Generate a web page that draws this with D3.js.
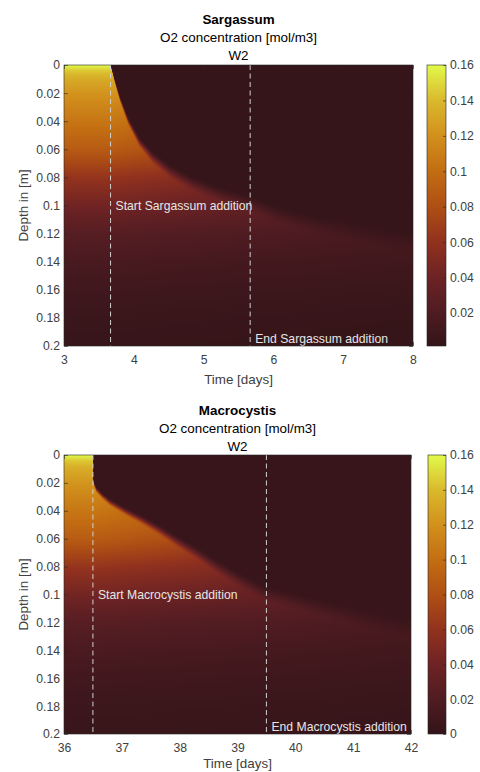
<!DOCTYPE html>
<html><head><meta charset="utf-8">
<script src="https://cdn.jsdelivr.net/npm/d3@7"></script>
<style>html,body{margin:0;padding:0;background:#fff;} svg{display:block;font-family:"Liberation Sans",Arial,sans-serif;}</style>
</head><body>
<script>
// ---------- shared tick data ----------
const depthTicks = [0, 0.02, 0.04, 0.06, 0.08, 0.1, 0.12, 0.14, 0.16, 0.18, 0.2];
const depthTickLabels = ["0", "0.02", "0.04", "0.06", "0.08", "0.1", "0.12", "0.14", "0.16", "0.18", "0.2"];
const colormapColors = ["#331418", "#501c22", "#6e2324", "#92321e", "#af5014", "#c36e12", "#d2911c", "#dab92d", "#e1fa4a"];

// ---------- Sargassum panel ----------
const sargTitle = ["Sargassum", "O2 concentration [mol/m3]", "W2"];
const sargTimeDomain = [3, 8];
const sargTimeTicks = [3, 4, 5, 6, 7, 8];
const sargColorDomain = [0.0014, 0.16];
const sargColorTicks = [0.02, 0.04, 0.06, 0.08, 0.1, 0.12, 0.14, 0.16];
const sargColorTickLabels = ["0.02", "0.04", "0.06", "0.08", "0.1", "0.12", "0.14", "0.16"];
const sargEventTimes = [3.667, 5.667];
const sargEventLabels = ["Start Sargassum addition", "End Sargassum addition"];
const sargProfileDepth = [0, 0.004, 0.01, 0.02, 0.03, 0.04, 0.05, 0.06, 0.07, 0.08, 0.09, 0.1, 0.11, 0.12, 0.14, 0.16, 0.18, 0.2];
const sargProfileConc  = [0.16, 0.145, 0.133, 0.122, 0.113, 0.105, 0.097, 0.088, 0.075, 0.062, 0.052, 0.043, 0.033, 0.025, 0.016, 0.010, 0.006, 0.004];
const sargFrontTime  = [3.667, 3.73, 3.80, 3.92, 4.08, 4.27, 4.52, 4.85, 5.23, 5.62, 6.05, 6.6, 7.3, 8.0];
const sargFrontDepth = [0, 0.012, 0.024, 0.040, 0.055, 0.066, 0.076, 0.085, 0.0925, 0.098, 0.107, 0.114, 0.121, 0.127];
const sargDecayTime   = [3, 3.667, 5.667, 8];
const sargDecayFactor = [1, 1, 0.8, 0.62];
const sargBackground = 0.003;

// ---------- Macrocystis panel ----------
const macroTitle = ["Macrocystis", "O2 concentration [mol/m3]", "W2"];
const macroTimeDomain = [36, 42];
const macroTimeTicks = [36, 37, 38, 39, 40, 41, 42];
const macroColorDomain = [0, 0.16];
const macroColorTicks = [0, 0.02, 0.04, 0.06, 0.08, 0.1, 0.12, 0.14, 0.16];
const macroColorTickLabels = ["0", "0.02", "0.04", "0.06", "0.08", "0.1", "0.12", "0.14", "0.16"];
const macroEventTimes = [36.5, 39.5];
const macroEventLabels = ["Start Macrocystis addition", "End Macrocystis addition"];
const macroProfileDepth = [0, 0.004, 0.01, 0.02, 0.03, 0.04, 0.05, 0.06, 0.07, 0.08, 0.09, 0.1, 0.11, 0.12, 0.14, 0.16, 0.18, 0.2];
const macroProfileConc  = [0.16, 0.145, 0.133, 0.122, 0.113, 0.105, 0.097, 0.088, 0.075, 0.062, 0.052, 0.043, 0.033, 0.025, 0.016, 0.010, 0.006, 0.004];
const macroFrontTime  = [36.5, 36.52, 36.56, 36.65, 36.79, 37.08, 37.36, 37.65, 37.95, 38.27, 38.64, 39.04, 39.5, 40.43, 41.41, 42];
const macroFrontDepth = [0.017, 0.021, 0.025, 0.029, 0.034, 0.041, 0.047, 0.054, 0.062, 0.070, 0.080, 0.090, 0.100, 0.110, 0.120, 0.125];
const macroDecayTime   = [36, 36.5, 39.5, 42];
const macroDecayFactor = [1, 1, 0.8, 0.62];
const macroBackground = 0.003;

const panels = [
  { title: sargTitle, tDomain: sargTimeDomain, tTicks: sargTimeTicks, cDomain: sargColorDomain,
    cTicks: sargColorTicks, cTickLabels: sargColorTickLabels, events: sargEventTimes, eventLabels: sargEventLabels,
    profD: sargProfileDepth, profC: sargProfileConc, frontT: sargFrontTime, frontD: sargFrontDepth,
    decT: sargDecayTime, decF: sargDecayFactor, bg: sargBackground,
    box: { left: 64, right: 413, top: 65, bottom: 346, cbLeft: 427, cbRight: 446, titleY: [19, 37.5, 55.5], xLabelY: 379 } },
  { title: macroTitle, tDomain: macroTimeDomain, tTicks: macroTimeTicks, cDomain: macroColorDomain,
    cTicks: macroColorTicks, cTickLabels: macroColorTickLabels, events: macroEventTimes, eventLabels: macroEventLabels,
    profD: macroProfileDepth, profC: macroProfileConc, frontT: macroFrontTime, frontD: macroFrontDepth,
    decT: macroDecayTime, decF: macroDecayFactor, bg: macroBackground,
    box: { left: 64, right: 411, top: 455, bottom: 734, cbLeft: 428, cbRight: 446, titleY: [410, 428, 446], xLabelY: 763.5 } }
];

const svg = d3.select("body").append("svg").attr("width", 480).attr("height", 772);

function drawPanel(p) {
  const b = p.box;
  const x = d3.scaleLinear().domain(p.tDomain).range([b.left, b.right]);
  const y = d3.scaleLinear().domain([0, 0.2]).range([b.top, b.bottom]);
  const profile = d3.scaleLinear().domain(p.profD).range(p.profC).clamp(true);
  const front = d3.scaleLinear().domain(p.frontT).range(p.frontD).clamp(true);
  const decay = d3.scaleLinear().domain(p.decT).range(p.decF).clamp(true);
  const cStops = colormapColors.map((c, i) => p.cDomain[0] + i * (p.cDomain[1] - p.cDomain[0]) / (colormapColors.length - 1));
  const color = d3.scaleLinear().domain(cStops).range(colormapColors).interpolate(d3.interpolateRgb).clamp(true);

  const N = 512, lut = [];
  for (let i = 0; i < N; i++) {
    const c = d3.rgb(color(p.cDomain[0] + i / (N - 1) * (p.cDomain[1] - p.cDomain[0])));
    lut.push([c.r, c.g, c.b]);
  }
  const toIdx = d3.scaleLinear().domain(p.cDomain).range([0, N - 1]).clamp(true);

  function field(t, z) {
    const v = profile(z) * decay(t);
    if (t < p.frontT[0]) return v;
    const zf = front(t);
    const w = 0.002 + 0.12 * zf;
    let s = (z - zf) / w + 0.5;
    s = Math.max(0, Math.min(1, s));
    s = s * s * (3 - 2 * s);
    return p.bg + (v - p.bg) * s;
  }

  const W = Math.round(b.right - b.left), H = Math.round(b.bottom - b.top);
  const canvas = document.createElement("canvas");
  canvas.width = W; canvas.height = H;
  const ctx = canvas.getContext("2d");
  const img = ctx.createImageData(W, H);
  for (let py = 0; py < H; py++) {
    const z = y.invert(b.top + py + 0.5);
    for (let px = 0; px < W; px++) {
      const t = x.invert(b.left + px + 0.5);
      const c = lut[Math.round(toIdx(field(t, z)))];
      const k = (py * W + px) * 4;
      img.data[k] = c[0]; img.data[k + 1] = c[1]; img.data[k + 2] = c[2]; img.data[k + 3] = 255;
    }
  }
  ctx.putImageData(img, 0, 0);
  svg.append("image").attr("x", b.left).attr("y", b.top).attr("width", W).attr("height", H)
    .attr("preserveAspectRatio", "none").attr("href", canvas.toDataURL());

  const g = svg.append("g");
  p.events.forEach(et => {
    g.append("line").attr("x1", x(et)).attr("x2", x(et)).attr("y1", b.top).attr("y2", b.bottom)
      .attr("stroke", "#d0d0d0").attr("stroke-width", 1).attr("stroke-dasharray", "5,3.5");
  });
  g.append("text").attr("x", x(p.events[0]) + 5).attr("y", y(0.1)).attr("dy", "0.35em")
    .attr("fill", "#e6e6e6").attr("font-size", "12.2px").text(p.eventLabels[0]);
  g.append("text").attr("x", x(p.events[1]) + 5).attr("y", y(0.195)).attr("dy", "0.35em")
    .attr("fill", "#e6e6e6").attr("font-size", "12.2px").text(p.eventLabels[1]);

  const fmtY = d => depthTickLabels[depthTicks.indexOf(d)];
  const ax = svg.append("g").attr("transform", `translate(${b.left},0)`)
    .call(d3.axisLeft(y).tickValues(depthTicks).tickFormat(fmtY).tickSizeInner(-4).tickSizeOuter(0).tickPadding(4));
  const axR = svg.append("g").attr("transform", `translate(${b.right},0)`)
    .call(d3.axisRight(y).tickValues(depthTicks).tickFormat("").tickSizeInner(-4).tickSizeOuter(0));
  const axB = svg.append("g").attr("transform", `translate(0,${b.bottom})`)
    .call(d3.axisBottom(x).tickValues(p.tTicks).tickFormat(d3.format("d")).tickSizeInner(-4).tickSizeOuter(0).tickPadding(9));
  const axT = svg.append("g").attr("transform", `translate(0,${b.top})`)
    .call(d3.axisTop(x).tickValues(p.tTicks).tickFormat("").tickSizeInner(-4).tickSizeOuter(0));
  [ax, axR, axB, axT].forEach(a => {
    a.select(".domain").remove();
    a.selectAll(".tick line").attr("stroke", "#262626").attr("stroke-width", 0.6);
    a.selectAll(".tick text").attr("fill", "#404040").attr("font-size", "12.2px").attr("font-family", "Liberation Sans, Arial, sans-serif");
  });
  svg.append("rect").attr("x", b.left).attr("y", b.top).attr("width", b.right - b.left).attr("height", b.bottom - b.top)
    .attr("fill", "none").attr("stroke", "#262626").attr("stroke-width", 0.6);

  svg.append("text").attr("x", (b.left + b.right) / 2).attr("y", b.xLabelY).attr("dy", "0.35em")
    .attr("text-anchor", "middle").attr("fill", "#404040").attr("font-size", "13.4px").text("Time [days]");
  svg.append("text").attr("transform", `translate(23,${(b.top + b.bottom) / 2}) rotate(-90)`).attr("dy", "0.35em")
    .attr("text-anchor", "middle").attr("fill", "#404040").attr("font-size", "13.4px").text("Depth in [m]");

  p.title.forEach((tt, i) => {
    svg.append("text").attr("x", (b.left + b.right) / 2).attr("y", b.titleY[i]).attr("dy", "0.35em")
      .attr("text-anchor", "middle").attr("fill", "#000").attr("font-size", "13.4px")
      .attr("font-weight", i === 0 ? "bold" : "normal").text(tt);
  });

  const cy = d3.scaleLinear().domain(p.cDomain).range([b.bottom, b.top]);
  const gid = "grad" + b.top;
  const grad = svg.append("defs").append("linearGradient").attr("id", gid)
    .attr("x1", 0).attr("y1", 1).attr("x2", 0).attr("y2", 0);
  cStops.forEach((v, i) => grad.append("stop").attr("offset", i / (cStops.length - 1)).attr("stop-color", colormapColors[i]));
  svg.append("rect").attr("x", b.cbLeft).attr("y", b.top).attr("width", b.cbRight - b.cbLeft).attr("height", b.bottom - b.top)
    .attr("fill", `url(#${gid})`).attr("stroke", "#262626").attr("stroke-width", 0.6);
  const cbAx = svg.append("g").attr("transform", `translate(${b.cbRight},0)`)
    .call(d3.axisRight(cy).tickValues(p.cTicks).tickFormat(d => p.cTickLabels[p.cTicks.indexOf(d)])
      .tickSizeInner(-3).tickSizeOuter(0).tickPadding(4));
  cbAx.select(".domain").remove();
  cbAx.selectAll(".tick line").attr("stroke", "#262626").attr("stroke-width", 0.6);
  cbAx.selectAll(".tick text").attr("fill", "#404040").attr("font-size", "12.2px").attr("font-family", "Liberation Sans, Arial, sans-serif");
}

panels.forEach(drawPanel);
</script>
</body></html>
